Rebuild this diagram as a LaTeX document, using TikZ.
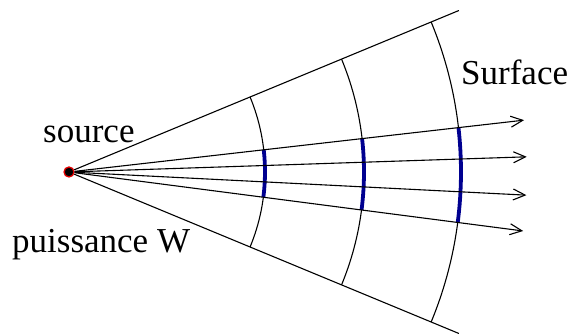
\documentclass[tikz,border=0pt]{standalone}
\usepackage{fontspec}
\setmainfont{Liberation Serif}
\usetikzlibrary{arrows.meta}
\definecolor{surfblue}{HTML}{000090}
\definecolor{srcred}{HTML}{E00000}

\tikzset{
  lbl/.style={font=\fontsize{35}{40}\selectfont, inner sep=0pt, anchor=base west},
  edge/.style={black, line width=1.1pt},
  ray/.style={black, line width=1.1pt, -{Straight Barb[length=12pt,width=11pt,line width=1.1pt]}},
  surf/.style={surfblue, line width=3.8pt}
}

\begin{document}
\begin{tikzpicture}[x=1pt,y=1pt]
  \useasboundingbox (0,0) rectangle (572,336);

  % Point source
  \node[circle, fill=black, draw=srcred, line width=1.3pt, inner sep=0pt,
        minimum size=10pt] (src) at (69,164) {};

  % Labels
  \node[lbl] (srclbl)  at (43,193) {source};
  \node[lbl] (powlbl)  at (12,83)  {puissance W};
  \node[lbl] (surflbl) at (461,251) {Surface};

  % Cone limits
  \path (src.center) ++(22.5:422)  coordinate (topend);
  \path (src.center) ++(-22.5:422) coordinate (botend);
  \draw[edge] (src) -- (topend);
  \draw[edge] (src) -- (botend);

  % Wave fronts, with the patch crossed by the rays
  \foreach \r in {196,295,392} {
    \draw[edge] (src.center) ++(22.5:\r) arc[start angle=22.5, end angle=-22.5, radius=\r];
    \draw[surf] (src.center) ++(6.5:\r) arc[start angle=6.5, end angle=-7.4, radius=\r];
  }

  % Rays
  \foreach \a [count=\i] in {6.5,1.9,-2.9,-7.4} {
    \path (src.center) ++(\a:458) coordinate (tip\i);
    \draw[ray] (src) -- (tip\i);
  }
\end{tikzpicture}
\end{document}
